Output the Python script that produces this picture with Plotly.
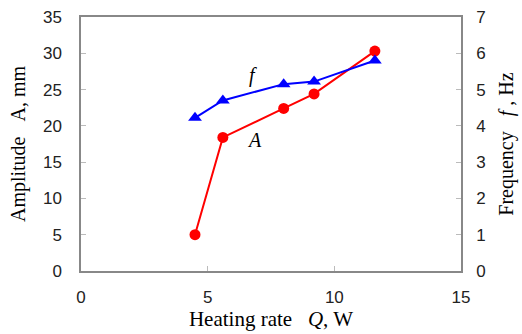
import plotly.graph_objects as go

Q = [4.5, 5.6, 8.0, 9.2, 11.6]
amplitude = [5.0, 18.4, 22.4, 24.4, 30.3]
frequency = [4.22, 4.70, 5.15, 5.22, 5.80]
x_ticks = [0, 5, 10, 15]
y_ticks = [0, 5, 10, 15, 20, 25, 30, 35]
y2_ticks = [0, 1, 2, 3, 4, 5, 6, 7]

serif = "Liberation Serif, Times New Roman, serif"
sans = "Liberation Sans, Arial, sans-serif"
grey = "#888888"

fig = go.Figure()
fig.add_trace(go.Scatter(x=Q, y=amplitude, mode="lines+markers",
                         line=dict(color="#ff0000", width=2),
                         marker=dict(symbol="circle", size=11, color="#ff0000"),
                         yaxis="y", showlegend=False))
fig.add_trace(go.Scatter(x=Q, y=frequency, mode="lines+markers",
                         line=dict(color="#0000ff", width=2),
                         marker=dict(symbol="triangle-up", size=12, color="#0000ff"),
                         yaxis="y2", showlegend=False))

fig.add_annotation(x=6.8, y=27, text="<i>f</i>", showarrow=False,
                   font=dict(family=serif, size=20, color="black"), xref="x", yref="y")
fig.add_annotation(x=6.85, y=18.0, text="<i>A</i>", showarrow=False,
                   font=dict(family=serif, size=20, color="black"), xref="x", yref="y")

axis_common = dict(showline=True, linecolor=grey, linewidth=1.5, ticks="inside",
                   tickcolor="#bbbbbb", ticklen=5, showgrid=False, zeroline=False,
                   automargin=False,
                   tickfont=dict(family=sans, size=17, color="#222222"))

fig.update_layout(
    width=522, height=334,
    margin=dict(l=81, r=61, t=17, b=63),
    paper_bgcolor="white", plot_bgcolor="white",
    xaxis=dict(range=[0, 15], tickvals=x_ticks, mirror=True, ticklabelstandoff=10,
               title=dict(text="Heating rate&nbsp;&nbsp;&nbsp;<i>Q</i>, W",
                          font=dict(family=serif, size=21, color="black"), standoff=0),
               **axis_common),
    yaxis=dict(range=[0, 35], tickvals=y_ticks, mirror=False, ticklabelstandoff=14,
               title=dict(text="Amplitude&nbsp;&nbsp;&nbsp;A, mm",
                          font=dict(family=serif, size=20, color="black"), standoff=12),
               **axis_common),
    yaxis2=dict(range=[0, 7], tickvals=y2_ticks, overlaying="y", side="right", ticklabelstandoff=10,
                title=dict(text="Frequency&nbsp;&nbsp;&nbsp;<i>f</i>&nbsp;, Hz",
                           font=dict(family=serif, size=20, color="black"), standoff=14),
                **axis_common),
)

fig.write_html("out.html")
